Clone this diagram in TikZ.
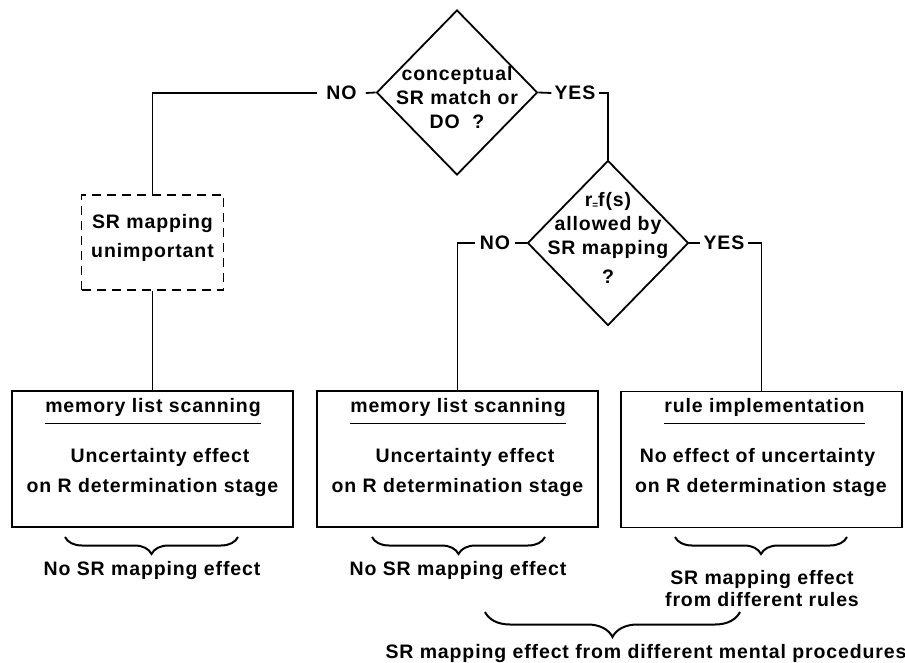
\documentclass[tikz,border=0pt]{standalone}
\usepackage{fontspec}
\setmainfont{Liberation Sans}[LetterSpace=4.5]
\usetikzlibrary{shapes.geometric,decorations.pathreplacing}
\begin{document}
\begin{tikzpicture}[x=1pt,y=-1pt,
  every node/.style={font=\fontsize{19.5}{24}\selectfont\bfseries, inner sep=0pt},
  line/.style={line width=1.8pt},
  dec/.style={diamond, draw, line width=1.8pt, minimum width=161pt, minimum height=165pt, inner sep=0pt},
  box/.style={draw, line width=1.8pt, minimum width=281pt, minimum height=136pt, inner sep=0pt},
  dbox/.style={draw, line width=1.8pt, dash pattern=on 9pt off 6pt, minimum width=142pt, minimum height=95pt, inner sep=0pt},
  lbl/.style={align=center, inner sep=0pt},
  yn/.style={inner xsep=3pt, inner ysep=2pt},
  brc/.style={decorate, decoration={brace, mirror, amplitude=17pt}, line width=2pt},
  uline/.style={line width=1.1pt},
]
\useasboundingbox (0,0) rectangle (905,663);

% decisions
\node[dec] (d1) at (457,92.5) {};
\node[lbl] (d1t) at (457,98) {conceptual\\SR match or\\DO\ \ ?};
\node[dec] (d2) at (608,243) {};
\node[lbl] (d2t) at (608,238) {r\raisebox{-2pt}{\fontsize{10}{10}\selectfont=}f(s)\\allowed by\\SR mapping\\[5pt]?};

% dashed box
\node[dbox] (sr) at (152.5,242.5) {};
\node[lbl, font=\fontsize{19.5}{29}\selectfont\bfseries] (srt) at (152.5,237.5) {SR mapping\\unimportant};

% result boxes
\node[box] (b1) at (152.5,459) {};
\node[box] (b2) at (457.5,459) {};
\node[box] (b3) at (761.5,459.5) {};

\node (h1) at (153,407) {memory list scanning};
\node (h2) at (458,407) {memory list scanning};
\node (h3) at (764.5,407) {rule implementation};
\draw[uline] ([yshift=-7pt]h1.south west) -- ([yshift=-7pt]h1.south east);
\draw[uline] ([yshift=-7pt]h2.south west) -- ([yshift=-7pt]h2.south east);
\draw[uline] ([yshift=-7pt]h3.south west) -- ([yshift=-7pt]h3.south east);

\node (u1a) at (160,457) {Uncertainty effect};
\node (u1b) at (152.5,487) {on R determination stage};
\node (u2a) at (465,457) {Uncertainty effect};
\node (u2b) at (457.5,487) {on R determination stage};
\node (u3a) at (757.5,457) {No effect of uncertainty};
\node (u3b) at (761,487) {on R determination stage};

% YES/NO connectors
\node[yn, inner xsep=9pt] (no1) at (341.5,93) {NO};
\node[yn] (yes1) at (575,93) {YES};
\node[yn, inner xsep=5pt] (no2) at (495,243) {NO};
\node[yn] (yes2) at (724,243) {YES};

\draw[line] (d1.west) -- (no1.east);
\draw[line] (no1.west) -| (sr.north);
\draw[line] (d1.east) -- (yes1.west);
\draw[line] (yes1.east) -| (d2.north);
\draw[line] (sr.south) -- (b1.north);
\draw[line] (d2.west) -- (no2.east);
\draw[line] (no2.west) -| (b2.north);
\draw[line] (d2.east) -- (yes2.west);
\draw[line] (yes2.east) -| (b3.north);

% braces
\coordinate (r1a) at (65,537);  \coordinate (r1b) at (238,537);
\coordinate (r2a) at (372,537); \coordinate (r2b) at (545,537);
\coordinate (r3a) at (675,537); \coordinate (r3b) at (847,537);
\coordinate (r4a) at (485,612); \coordinate (r4b) at (740,612);
\draw[brc] (r1a) -- (r1b);
\draw[brc] (r2a) -- (r2b);
\draw[brc] (r3a) -- (r3b);
\draw[brc, decoration={amplitude=25pt}] (r4a) -- (r4b);

\node (e1) at (152,570) {No SR mapping effect};
\node (e2) at (458,570) {No SR mapping effect};
\node[lbl, font=\fontsize{19.5}{22}\selectfont\bfseries] (e3) at (762,589) {SR mapping effect\\from different rules};
\node (e4) at (646,653) {SR mapping effect from different mental procedures};
\end{tikzpicture}
\end{document}
